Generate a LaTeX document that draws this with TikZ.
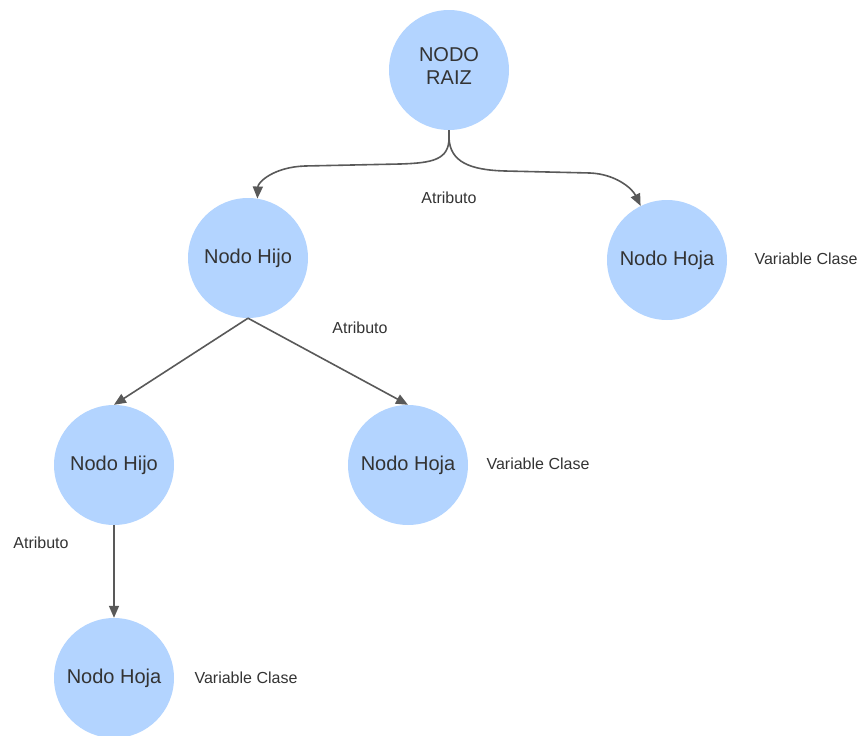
\documentclass[tikz,border=0pt]{standalone}
\usepackage{fontspec}
\setmainfont{Liberation Sans}
\usetikzlibrary{arrows.meta}
\definecolor{nodefill}{HTML}{B3D4FF}
\definecolor{inkgray}{HTML}{333333}
\definecolor{linegray}{HTML}{595959}
\tikzset{
  treenode/.style={circle, fill=nodefill, draw=none, minimum size=120pt, inner sep=0pt,
    align=center, text=inkgray, font=\fontsize{20}{23.5}\selectfont},
  nodetext/.style={align=center, text=inkgray, font=\fontsize{20}{23.5}\selectfont, inner sep=0pt},
  edgelabel/.style={text=inkgray, font=\fontsize{16}{19}\selectfont, inner sep=0pt},
  conn/.style={draw=linegray, line width=1.6pt, -{Triangle[length=12pt,width=10pt]}}
}
\begin{document}
\begin{tikzpicture}[x=1pt,y=-1pt]
  \useasboundingbox (0,0) rectangle (865,736);

  % tree nodes
  \node[treenode] (root) at (449,70) {};
  \node[nodetext] (rootText) at (449,66) {NODO\\RAIZ};
  \node[treenode] (hijoA) at (248,258) {Nodo Hijo};
  \node[treenode] (hojaA) at (667,260) {Nodo Hoja};
  \node[treenode] (hijoB) at (114,465) {Nodo Hijo};
  \node[treenode] (hojaB) at (408,465) {Nodo Hoja};
  \node[treenode] (hojaC) at (114,678) {Nodo Hoja};

  % labels
  \node[edgelabel] (atrA) at (449,198) {Atributo};
  \node[edgelabel] (atrB) at (360,328) {Atributo};
  \node[edgelabel] (atrC) at (41,543) {Atributo};
  \node[edgelabel] (varA) at (806,259) {Variable Clase};
  \node[edgelabel] (varB) at (538,464) {Variable Clase};
  \node[edgelabel] (varC) at (246,678) {Variable Clase};

  % forked connectors from the root
  \coordinate (fork) at (449,138);
  \draw[conn] (root.south) -- (fork)
    .. controls (449,160) and (432,163) .. (400,164)
    -- (305,166)
    .. controls (274,167) and (258,182) .. (hijoA.81);
  \draw[conn] (root.south) -- (fork)
    .. controls (450,162) and (470,170) .. (505,171)
    -- (590,173)
    .. controls (615,174) and (632,188) .. (hojaA.116);

  % straight connectors
  \draw[conn] (hijoA.south) -- (hijoB.north);
  \draw[conn] (hijoA.south) -- (hojaB.north);
  \draw[conn] (hijoB.south) -- (hojaC.north);
\end{tikzpicture}
\end{document}
